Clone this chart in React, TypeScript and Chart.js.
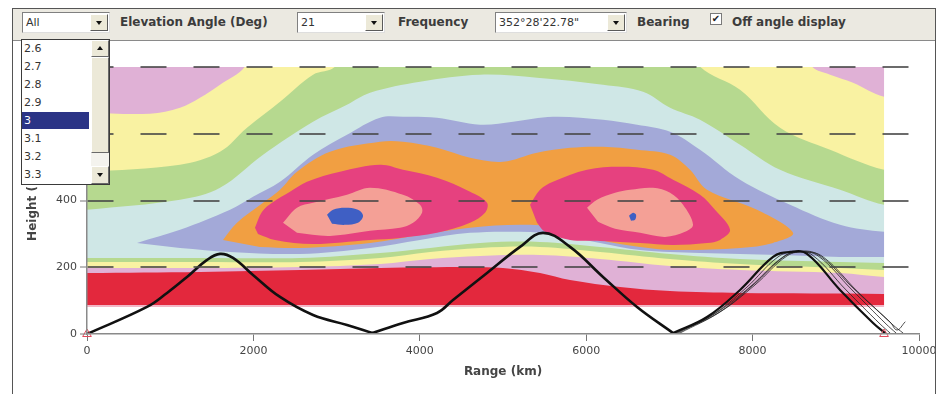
import React, { useEffect, useRef } from "react";
import { Chart, registerables } from "chart.js";

Chart.register(...registerables);

type Pt = [number, number];

// ---------- axis ticks ----------
const X_TICKS = [0, 2000, 4000, 6000, 8000, 10000];
const Y_TICKS = [0, 200, 400, 600, 800];

// ---------- UI texts ----------
const DROPDOWN_ITEMS = ["2.6", "2.7", "2.8", "2.9", "3", "3.1", "3.2", "3.3"];
const SELECTED_ITEM = "3";

// ---------- contour level regions (Range km, Height km) ----------
const BASE_BAND: Pt[] = [[-300, 81], [10300, 81], [10300, 880], [-300, 880]];
const RED_BAND: Pt[] = [[-300, 87], [10300, 87], [10300, 880], [-300, 880]];

const PINK_LEVEL: Pt[] = [
  [-300, 183], [0, 183], [1358, 186], [2560, 192], [3522, 198], [4604, 201], [5000, 198],
  [5445, 183], [5806, 162], [6407, 141], [7008, 129], [7849, 123], [9580, 120], [10300, 118],
  [10300, 880], [-300, 880],
];

const YELLOW_LEVEL: Pt[] = [
  [-300, 198], [0, 198], [1358, 198], [2560, 201], [3522, 210], [4123, 225], [4724, 234],
  [5445, 237], [6166, 225], [7008, 204], [7849, 192], [9051, 183], [9580, 171], [10300, 165],
  [10300, 690], [9580, 711], [9207, 753], [8931, 777], [8714, 801], [8550, 880],
  [2000, 880], [1899, 801], [1599, 747], [1358, 708], [1118, 678], [757, 660], [0, 663], [-300, 663],
];

const GREEN_LEVEL: Pt[] = [
  [-300, 216], [0, 216], [1358, 216], [2560, 216], [3522, 228], [4123, 246], [4724, 258],
  [5445, 261], [6166, 246], [7008, 225], [7849, 210], [9051, 198], [9580, 192], [10300, 188],
  [10300, 470], [9580, 492], [8931, 552], [8330, 618], [7849, 732], [7368, 801], [7250, 880],
  [3080, 880], [2981, 801], [2717, 777], [2320, 696], [1923, 618], [1599, 546], [1118, 507],
  [0, 486], [-300, 484],
];

const CYAN_LEVEL: Pt[] = [
  [-300, 228], [0, 228], [1358, 228], [2560, 228], [3522, 243], [4123, 258], [4724, 273],
  [5445, 276], [6166, 261], [7008, 240], [7849, 225], [9051, 216], [9580, 213], [10300, 212],
  [10300, 370], [9580, 387], [9051, 432], [8330, 492], [7849, 567], [7368, 642], [7008, 678],
  [6683, 726], [6202, 747], [5409, 768], [4724, 777], [4003, 756], [3402, 723], [3125, 687],
  [2717, 636], [2116, 537], [1599, 438], [1118, 402], [0, 372], [-300, 368],
];

const LAVENDER_LEVEL: Pt[] = [
  [601, 273], [1118, 312], [1719, 372], [1995, 411], [2320, 456], [2717, 537], [3125, 597],
  [3522, 648], [3798, 651], [4207, 648], [4724, 627], [5121, 636], [5601, 651], [6202, 642],
  [6611, 627], [7008, 606], [7368, 552], [7849, 462], [8450, 387], [9051, 327], [9580, 306],
  [10300, 300], [10300, 232], [9580, 231], [9051, 231], [8330, 237], [7368, 243], [6647, 252],
  [6166, 273], [5685, 297], [5205, 306], [4604, 303], [4003, 282], [3402, 258], [2560, 240],
  [1719, 246], [1118, 258],
];

const ORANGE_LEVEL: Pt[] = [
  [1635, 282], [1803, 333], [2116, 393], [2320, 432], [2524, 486], [2921, 546], [3522, 576],
  [3798, 576], [4207, 558], [4604, 528], [5000, 516], [5409, 543], [5806, 558], [6202, 561],
  [6611, 552], [7008, 537], [7248, 492], [7452, 432], [8053, 372], [8486, 303], [8246, 273],
  [7849, 258], [7044, 252], [6647, 261], [6166, 282], [5685, 318], [5205, 327], [4604, 318],
  [4003, 297], [3402, 273], [2560, 258], [2079, 261],
];

const MAGENTA_WEST: Pt[] = [
  [2019, 318], [2104, 366], [2224, 393], [2440, 426], [2644, 456], [3041, 486], [3522, 507],
  [3798, 492], [4207, 468], [4604, 426], [4808, 393], [4784, 363], [4604, 333], [4207, 303],
  [3762, 288], [3402, 282], [2717, 270], [2260, 282], [2055, 300],
];
const MAGENTA_EAST: Pt[] = [
  [5325, 387], [5445, 432], [5601, 456], [6010, 492], [6407, 501], [6803, 492], [7044, 462],
  [7368, 417], [7548, 372], [7729, 312], [7609, 282], [7452, 273], [7044, 267], [6647, 273],
  [6166, 279], [5806, 282], [5505, 306], [5409, 333],
];

const SALMON_WEST: Pt[] = [
  [2356, 333], [2524, 378], [2717, 393], [3125, 417], [3402, 438], [3798, 417], [4003, 387],
  [4027, 363], [3919, 333], [3762, 318], [3402, 309], [2921, 294], [2524, 303],
];
const SALMON_EAST: Pt[] = [
  [6010, 378], [6130, 402], [6347, 423], [6527, 432], [6803, 438], [7008, 423], [7164, 387],
  [7284, 327], [7188, 306], [6948, 291], [6647, 303], [6347, 315], [6142, 336],
];

const BLUE_WEST: Pt[] = [
  [2885, 357], [2957, 372], [3101, 378], [3257, 372], [3318, 354], [3257, 333], [3101, 327], [2945, 330],
];
const BLUE_EAST: Pt[] = [[6515, 354], [6563, 363], [6599, 357], [6587, 342], [6539, 339]];

// regions outside the computed grid (blank)
const BLANK_EAST: Pt[] = [[9580, -100], [10600, -100], [10600, 900], [9580, 900]];
const BLANK_LOW: Pt[] = [[-400, -100], [10600, -100], [10600, 81], [-400, 81]];

// ---------- ray paths ----------
const RAY_HOP1: Pt[] = [
  [0, 0], [721, 81], [962, 123], [1202, 171], [1443, 222], [1599, 240], [1755, 228],
  [1995, 177], [2320, 111], [2717, 57], [3125, 27], [3430, 3],
];
const RAY_HOP2: Pt[] = [
  [3430, 3], [3798, 33], [4207, 63], [4399, 102], [4808, 183], [5205, 261], [5481, 303],
  [5806, 261], [6202, 171], [6611, 81], [7044, 3],
];
const RAY_HOP3_A: Pt[] = [[7044, 3], [7452, 51], [7849, 132], [8246, 231], [8450, 246], [8654, 240], [9051, 132], [9448, 33], [9590, 3]];
const RAY_HOP3_B: Pt[] = [[7068, 3], [7513, 57], [7921, 138], [8306, 231], [8510, 246], [8715, 237], [9123, 132], [9532, 30], [9652, 3]];
const RAY_HOP3_C: Pt[] = [[7104, 3], [7560, 63], [7969, 141], [8366, 231], [8570, 246], [8787, 234], [9195, 132], [9604, 30], [9724, 3]];
const RAY_HOP3_D: Pt[] = [[7128, 3], [7609, 66], [8029, 147], [8414, 234], [8630, 246], [8847, 231], [9267, 126], [9688, 27], [9808, 3]];
const RAY_HOP3_E: Pt[] = [[7080, 3], [7585, 63], [7993, 144], [8390, 234], [8594, 249], [8811, 234], [9231, 132], [9652, 36], [9736, 12], [9832, 36]];

const GROUND_MARKERS: Pt[] = [[0, 0], [9580, 0]];

const toXY = (pts: Pt[]) => pts.map(([x, y]) => ({ x, y }));

function area(pts: Pt[], color: string, order: number, tension = 0.35) {
  return {
    type: "line",
    data: toXY(pts),
    fill: "shape",
    backgroundColor: color,
    borderColor: "rgba(0,0,0,0)",
    borderWidth: 0,
    pointRadius: 0,
    pointHoverRadius: 0,
    tension,
    order,
  };
}

function ray(pts: Pt[], width: number, color: string, order: number) {
  return {
    type: "line",
    data: toXY(pts),
    fill: false,
    borderColor: color,
    borderWidth: width,
    pointRadius: 0,
    pointHoverRadius: 0,
    tension: 0.4,
    borderCapStyle: "round",
    borderJoinStyle: "round",
    order,
  };
}

function buildConfig() {
  const datasets: any[] = [
    area(BASE_BAND, "#f2b6c6", 100, 0),
    area(RED_BAND, "#e3283d", 99, 0),
    area(PINK_LEVEL, "#e0b1d6", 98),
    area(YELLOW_LEVEL, "#f9f2a2", 97),
    area(GREEN_LEVEL, "#b6d98f", 96),
    area(CYAN_LEVEL, "#cfe7e6", 95),
    area(LAVENDER_LEVEL, "#a3a9d8", 94),
    area(ORANGE_LEVEL, "#f19f42", 93),
    area(MAGENTA_WEST, "#e6417f", 92),
    area(MAGENTA_EAST, "#e6417f", 92),
    area(SALMON_WEST, "#f4a096", 91),
    area(SALMON_EAST, "#f4a096", 91),
    area(BLUE_WEST, "#3f5fc4", 90),
    area(BLUE_EAST, "#3f5fc4", 90),
    area(BLANK_EAST, "#ffffff", 50, 0),
    area(BLANK_LOW, "#ffffff", 50, 0),
    ray(RAY_HOP3_B, 0.8, "#222", 12),
    ray(RAY_HOP3_C, 0.8, "#222", 12),
    ray(RAY_HOP3_D, 0.8, "#222", 12),
    ray(RAY_HOP3_E, 0.8, "#222", 12),
    ray(RAY_HOP1, 2.6, "#111", 5),
    ray(RAY_HOP2, 2.6, "#111", 5),
    ray(RAY_HOP3_A, 2.2, "#111", 5),
    {
      type: "line",
      data: toXY(GROUND_MARKERS),
      showLine: false,
      pointStyle: "triangle",
      pointRadius: 5,
      pointBorderColor: "#e0485a",
      pointBackgroundColor: "rgba(255,255,255,0)",
      pointBorderWidth: 1,
      clip: false,
      order: 1,
    },
  ];

  const tickFont = { family: "DejaVu Sans", size: 11 };
  const titleFont = { family: "DejaVu Sans", size: 12, weight: "bold" };

  return {
    type: "line",
    data: { datasets },
    options: {
      responsive: false,
      animation: false,
      devicePixelRatio: 1,
      events: [],
      layout: { padding: { left: 0, right: 27, top: 26, bottom: 0 } },
      elements: { line: { capBezierPoints: false } },
      plugins: { legend: { display: false }, tooltip: { enabled: false }, title: { display: false } },
      scales: {
        x: {
          type: "linear",
          min: 0,
          max: 10000,
          afterBuildTicks: (s: any) => {
            s.ticks = X_TICKS.map((v) => ({ value: v }));
          },
          afterFit: (s: any) => {
            s.height = 60;
            s.paddingLeft = 0;
            s.paddingRight = 0;
          },
          ticks: {
            autoSkip: false,
            maxRotation: 0,
            font: tickFont,
            color: "#444",
            padding: 4,
            callback: (v: any) => String(v),
          },
          grid: { drawOnChartArea: false, drawTicks: true, tickLength: 7, tickColor: "#777", tickWidth: 1 },
          border: { color: "#8a8a8a", width: 1.5, z: 1 },
          title: {
            display: true,
            text: "Range (km)",
            font: titleFont,
            color: "#454545",
            padding: { top: 0, bottom: 15 },
          },
        },
        y: {
          type: "linear",
          min: 0,
          max: 800,
          afterBuildTicks: (s: any) => {
            s.ticks = Y_TICKS.map((v) => ({ value: v }));
          },
          afterFit: (s: any) => {
            s.width = 74;
            s.paddingTop = 0;
            s.paddingBottom = 0;
          },
          ticks: { font: tickFont, color: "#444", padding: 3, callback: (v: any) => String(v) },
          grid: {
            color: (ctx: any) => (ctx.tick && ctx.tick.value === 0 ? "rgba(0,0,0,0)" : "rgba(70,70,70,0.8)"),
            lineWidth: 2,
            tickLength: 7,
            tickColor: "#777",
            tickWidth: 1,
            z: 1,
          },
          border: { color: "#8a8a8a", width: 1.5, dash: [26, 27], z: 1 },
          title: {
            display: true,
            text: "Height (km)",
            font: titleFont,
            color: "#454545",
            padding: { top: 13, bottom: 0 },
          },
        },
      },
    },
  };
}

function Combo({ left, width, text }: { left: number; width: number; text: string }) {
  return (
    <div
      style={{
        position: "absolute",
        left,
        top: 12,
        width,
        height: 21,
        boxSizing: "border-box",
        background: "#fff",
        borderTop: "1px solid #808080",
        borderLeft: "1px solid #808080",
        borderRight: "1px solid #dedede",
        borderBottom: "1px solid #dedede",
      }}
    >
      <div style={{ position: "absolute", left: 3, top: 3, fontSize: 11, lineHeight: "13px", color: "#333", whiteSpace: "nowrap" }}>
        {text}
      </div>
      <div
        style={{
          position: "absolute",
          right: 1,
          top: 1,
          width: 18,
          height: 17,
          boxSizing: "border-box",
          background: "#ece9d8",
          borderTop: "1px solid #fff",
          borderLeft: "1px solid #fff",
          borderRight: "1px solid #5a5a5a",
          borderBottom: "1px solid #5a5a5a",
        }}
      >
        <div
          style={{
            position: "absolute",
            left: 5,
            top: 6,
            width: 0,
            height: 0,
            borderLeft: "3.5px solid transparent",
            borderRight: "3.5px solid transparent",
            borderTop: "4px solid #111",
          }}
        />
      </div>
    </div>
  );
}

function Label({ left, text }: { left: number; text: string }) {
  return (
    <div
      style={{
        position: "absolute",
        left,
        top: 15,
        fontSize: 12,
        fontWeight: "bold",
        lineHeight: "14px",
        color: "#3c3c3c",
        whiteSpace: "nowrap",
      }}
    >
      {text}
    </div>
  );
}

export default function App() {
  const canvasRef = useRef<HTMLCanvasElement | null>(null);

  useEffect(() => {
    const canvas = canvasRef.current;
    if (!canvas) return;
    Chart.defaults.font.family = "DejaVu Sans";
    const chart = new Chart(canvas, buildConfig() as any);
    return () => chart.destroy();
  }, []);

  return (
    <div
      style={{
        position: "absolute",
        left: 0,
        top: 0,
        width: 946,
        height: 394,
        background: "#fff",
        overflow: "hidden",
        fontFamily: '"DejaVu Sans", sans-serif',
      }}
    >
      <div style={{ position: "absolute", left: 13, top: 41, width: 933, height: 353 }}>
        <canvas ref={canvasRef} width={933} height={353} style={{ display: "block", width: 933, height: 353 }} />
      </div>

      {/* toolbar */}
      <div
        style={{
          position: "absolute",
          left: 13,
          top: 9,
          width: 922,
          height: 31,
          background: "#ebe9e1",
          borderBottom: "1px solid #8a8a8a",
        }}
      />
      {/* window frame */}
      <div style={{ position: "absolute", left: 12, top: 8, width: 924, height: 1, background: "#555" }} />
      <div style={{ position: "absolute", left: 12, top: 8, width: 1, height: 386, background: "#555" }} />
      <div style={{ position: "absolute", left: 935, top: 8, width: 1, height: 386, background: "#555" }} />
      <div style={{ position: "absolute", left: 936, top: 0, width: 10, height: 394, background: "#fff" }} />

      <Combo left={22} width={88} text="All" />
      <Label left={120} text="Elevation Angle (Deg)" />
      <Combo left={297} width={88} text="21" />
      <Label left={398} text="Frequency" />
      <Combo left={495} width={132} text={"352°28'22.78\""} />
      <Label left={637} text="Bearing" />
      <div
        style={{
          position: "absolute",
          left: 710,
          top: 13,
          width: 12,
          height: 12,
          boxSizing: "border-box",
          background: "#fff",
          border: "1px solid #7a7a7a",
          fontSize: 10,
          lineHeight: "10px",
          color: "#222",
          textAlign: "center",
        }}
      >
        ✔
      </div>
      <Label left={732} text="Off angle display" />

      {/* open dropdown list */}
      <div
        style={{
          position: "absolute",
          left: 21,
          top: 39,
          width: 89,
          height: 146,
          boxSizing: "border-box",
          background: "#fff",
          border: "1px solid #3a3a3a",
        }}
      >
        {DROPDOWN_ITEMS.map((t, i) => (
          <div
            key={t}
            style={{
              position: "absolute",
              left: 0,
              top: i * 18,
              width: 67,
              height: 17,
              boxSizing: "border-box",
              paddingLeft: 2,
              background: t === SELECTED_ITEM ? "#2b3486" : "transparent",
              color: t === SELECTED_ITEM ? "#fff" : "#333",
              fontSize: 11,
              lineHeight: "17px",
            }}
          >
            {t}
          </div>
        ))}
        {/* scrollbar */}
        <div style={{ position: "absolute", left: 69, top: 0, width: 18, height: 144, background: "#f4f3ee" }} />
        <div
          style={{
            position: "absolute",
            left: 69,
            top: 0,
            width: 18,
            height: 17,
            boxSizing: "border-box",
            background: "#ece9d8",
            borderTop: "1px solid #fff",
            borderLeft: "1px solid #fff",
            borderRight: "1px solid #6a6a6a",
            borderBottom: "1px solid #6a6a6a",
          }}
        >
          <div
            style={{
              position: "absolute",
              left: 5,
              top: 5,
              width: 0,
              height: 0,
              borderLeft: "3.5px solid transparent",
              borderRight: "3.5px solid transparent",
              borderBottom: "4px solid #111",
            }}
          />
        </div>
        <div
          style={{
            position: "absolute",
            left: 69,
            top: 17,
            width: 18,
            height: 96,
            boxSizing: "border-box",
            background: "#ece9d8",
            borderTop: "1px solid #fff",
            borderLeft: "1px solid #fff",
            borderRight: "1px solid #6a6a6a",
            borderBottom: "1px solid #6a6a6a",
          }}
        />
        <div
          style={{
            position: "absolute",
            left: 69,
            top: 126,
            width: 18,
            height: 18,
            boxSizing: "border-box",
            background: "#ece9d8",
            borderTop: "1px solid #fff",
            borderLeft: "1px solid #fff",
            borderRight: "1px solid #6a6a6a",
            borderBottom: "1px solid #6a6a6a",
          }}
        >
          <div
            style={{
              position: "absolute",
              left: 5,
              top: 6,
              width: 0,
              height: 0,
              borderLeft: "3.5px solid transparent",
              borderRight: "3.5px solid transparent",
              borderTop: "4px solid #111",
            }}
          />
        </div>
      </div>
    </div>
  );
}
